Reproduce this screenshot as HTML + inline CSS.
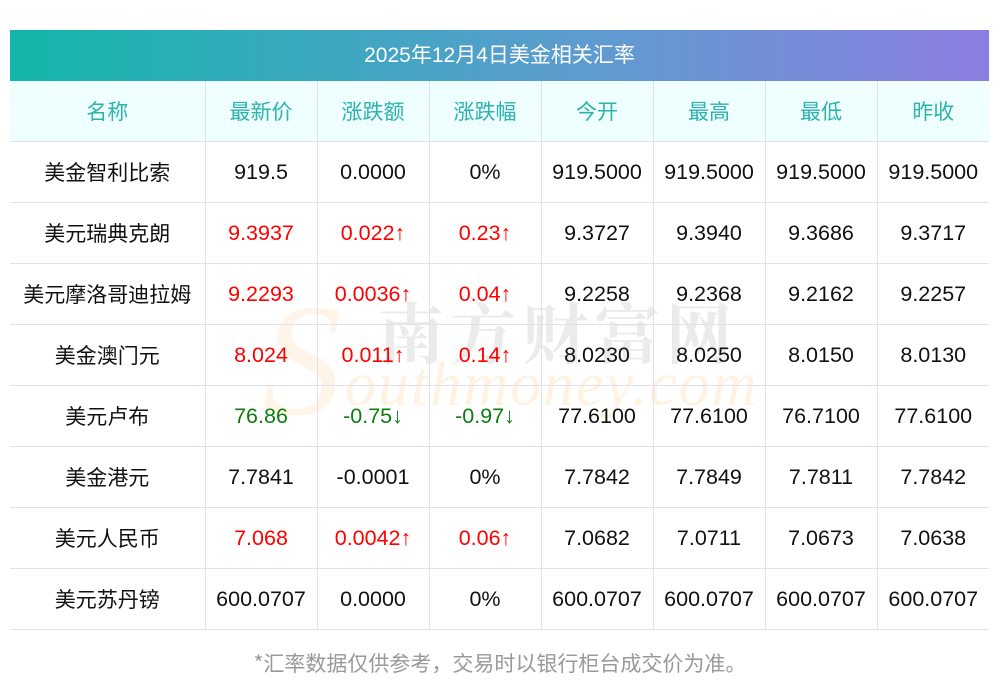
<!DOCTYPE html>
<html><head><meta charset="utf-8"><style>
body{margin:0;width:1000px;height:697px;background:#fff;position:relative;overflow:hidden;font-family:"Liberation Sans","Noto Sans CJK SC",sans-serif;}
.wm1{position:absolute;left:378px;top:290px;font-size:66px;color:#ebebeb;letter-spacing:6px;font-family:"Noto Serif CJK SC",serif;font-weight:bold;z-index:0;line-height:1.2}
.wm2{position:absolute;left:345px;top:350px;font-size:62px;color:#fef3e2;font-family:"Liberation Serif",serif;font-style:italic;letter-spacing:2px;z-index:0}
.wmS{position:absolute;left:262px;top:280px;font-size:160px;color:#fef5e8;font-family:"Liberation Serif",serif;font-style:italic;z-index:0;line-height:1}
.title{position:absolute;left:10px;top:30px;width:979px;height:51px;background:linear-gradient(90deg,#13b6aa,#5f9bd0 60%,#8c7ee0);color:#fff;font-size:21px;text-align:center;line-height:49px;font-family:"Noto Sans CJK SC","Liberation Sans",sans-serif}
.title span{font-family:"Liberation Sans",sans-serif}
table{position:absolute;left:10px;top:81px;border-collapse:collapse;z-index:1;table-layout:fixed}
td{border:1px solid #dfe0ea;height:60px;text-align:center;font-size:21.5px;color:#111;padding:0;line-height:57px}
td.c{font-family:"Noto Sans CJK SC",sans-serif;font-size:21px;line-height:58px}
tr:first-child td{background:#effefe;color:#2bb3ad;border-top:none;font-family:"Noto Sans CJK SC",sans-serif;font-size:21px;line-height:56px}
tr td:first-child{border-left:none}
tr td:last-child{border-right:none}
.r{color:#f00}.g{color:#0e7d0e}
.foot{position:absolute;top:648px;width:1000px;text-align:center;font-size:21px;color:#999;font-family:"Noto Sans CJK SC",sans-serif}
</style></head><body>
<div class="wmS">S</div>
<div class="wm1">南方财富网</div>
<div class="wm2">outhmoney.com</div>
<div class="title"><span>2025</span>年<span>12</span>月<span>4</span>日美金相关汇率</div>
<table>
<colgroup><col style="width:195px"><col style="width:112px"><col style="width:112px"><col style="width:112px"><col style="width:112px"><col style="width:112px"><col style="width:112px"><col style="width:112px"></colgroup>
<tr><td>名称</td><td>最新价</td><td>涨跌额</td><td>涨跌幅</td><td>今开</td><td>最高</td><td>最低</td><td>昨收</td></tr>
<tr><td class="c">美金智利比索</td><td>919.5</td><td>0.0000</td><td>0%</td><td>919.5000</td><td>919.5000</td><td>919.5000</td><td>919.5000</td></tr>
<tr><td class="c">美元瑞典克朗</td><td class="r">9.3937</td><td class="r">0.022↑</td><td class="r">0.23↑</td><td>9.3727</td><td>9.3940</td><td>9.3686</td><td>9.3717</td></tr>
<tr><td class="c">美元摩洛哥迪拉姆</td><td class="r">9.2293</td><td class="r">0.0036↑</td><td class="r">0.04↑</td><td>9.2258</td><td>9.2368</td><td>9.2162</td><td>9.2257</td></tr>
<tr><td class="c">美金澳门元</td><td class="r">8.024</td><td class="r">0.011↑</td><td class="r">0.14↑</td><td>8.0230</td><td>8.0250</td><td>8.0150</td><td>8.0130</td></tr>
<tr><td class="c">美元卢布</td><td class="g">76.86</td><td class="g">-0.75↓</td><td class="g">-0.97↓</td><td>77.6100</td><td>77.6100</td><td>76.7100</td><td>77.6100</td></tr>
<tr><td class="c">美金港元</td><td>7.7841</td><td>-0.0001</td><td>0%</td><td>7.7842</td><td>7.7849</td><td>7.7811</td><td>7.7842</td></tr>
<tr><td class="c">美元人民币</td><td class="r">7.068</td><td class="r">0.0042↑</td><td class="r">0.06↑</td><td>7.0682</td><td>7.0711</td><td>7.0673</td><td>7.0638</td></tr>
<tr><td class="c">美元苏丹镑</td><td>600.0707</td><td>0.0000</td><td>0%</td><td>600.0707</td><td>600.0707</td><td>600.0707</td><td>600.0707</td></tr>
</table>
<div class="foot">*汇率数据仅供参考，交易时以银行柜台成交价为准。</div>
</body></html>
